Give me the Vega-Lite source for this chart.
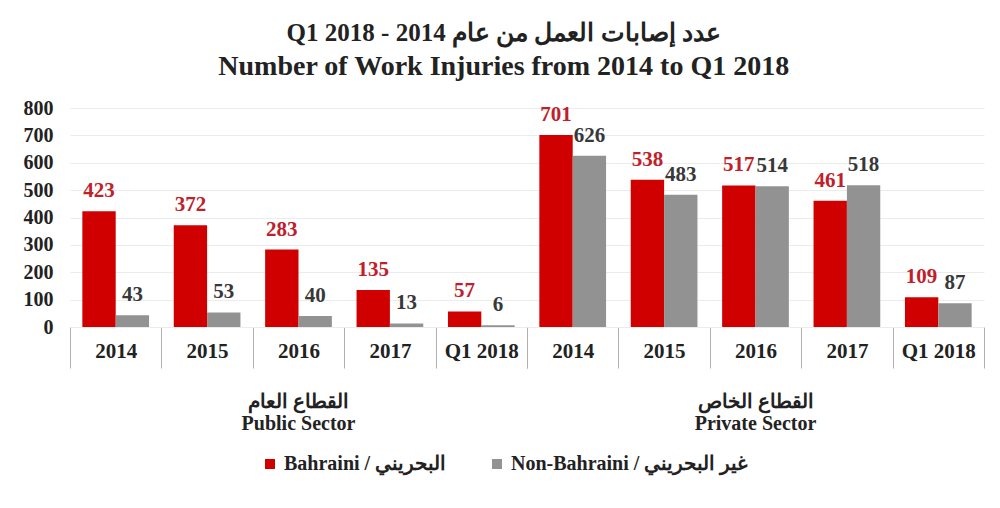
{
  "$schema": "https://vega.github.io/schema/vega-lite/v6.json",
  "background": "white",
  "padding": {"left": 23, "top": 21, "right": 10, "bottom": 10},
  "title": {
    "text": "Q1 2018 - 2014 عدد إصابات العمل من عام",
    "subtitle": "Number of Work Injuries from 2014 to Q1 2018",
    "font": "Liberation Serif",
    "fontSize": 25,
    "fontWeight": "bold",
    "color": "#222222",
    "subtitleFont": "Liberation Serif",
    "subtitleFontSize": 28,
    "subtitleFontWeight": "bold",
    "subtitleColor": "#222222",
    "subtitlePadding": 7,
    "anchor": "middle",
    "offset": 17
  },
  "data": {
    "values": [
      {"sector": "القطاع العام|Public Sector", "period": "2014", "series": "Bahraini / البحريني", "value": 423},
      {"sector": "القطاع العام|Public Sector", "period": "2014", "series": "Non-Bahraini / غير البحريني", "value": 43},
      {"sector": "القطاع العام|Public Sector", "period": "2015", "series": "Bahraini / البحريني", "value": 372},
      {"sector": "القطاع العام|Public Sector", "period": "2015", "series": "Non-Bahraini / غير البحريني", "value": 53},
      {"sector": "القطاع العام|Public Sector", "period": "2016", "series": "Bahraini / البحريني", "value": 283},
      {"sector": "القطاع العام|Public Sector", "period": "2016", "series": "Non-Bahraini / غير البحريني", "value": 40},
      {"sector": "القطاع العام|Public Sector", "period": "2017", "series": "Bahraini / البحريني", "value": 135},
      {"sector": "القطاع العام|Public Sector", "period": "2017", "series": "Non-Bahraini / غير البحريني", "value": 13},
      {"sector": "القطاع العام|Public Sector", "period": "Q1 2018", "series": "Bahraini / البحريني", "value": 57},
      {"sector": "القطاع العام|Public Sector", "period": "Q1 2018", "series": "Non-Bahraini / غير البحريني", "value": 6},
      {"sector": "القطاع الخاص|Private Sector", "period": "2014", "series": "Bahraini / البحريني", "value": 701},
      {"sector": "القطاع الخاص|Private Sector", "period": "2014", "series": "Non-Bahraini / غير البحريني", "value": 626},
      {"sector": "القطاع الخاص|Private Sector", "period": "2015", "series": "Bahraini / البحريني", "value": 538},
      {"sector": "القطاع الخاص|Private Sector", "period": "2015", "series": "Non-Bahraini / غير البحريني", "value": 483},
      {"sector": "القطاع الخاص|Private Sector", "period": "2016", "series": "Bahraini / البحريني", "value": 517},
      {"sector": "القطاع الخاص|Private Sector", "period": "2016", "series": "Non-Bahraini / غير البحريني", "value": 514},
      {"sector": "القطاع الخاص|Private Sector", "period": "2017", "series": "Bahraini / البحريني", "value": 461},
      {"sector": "القطاع الخاص|Private Sector", "period": "2017", "series": "Non-Bahraini / غير البحريني", "value": 518},
      {"sector": "القطاع الخاص|Private Sector", "period": "Q1 2018", "series": "Bahraini / البحريني", "value": 109},
      {"sector": "القطاع الخاص|Private Sector", "period": "Q1 2018", "series": "Non-Bahraini / غير البحريني", "value": 87}
    ]
  },
  "spacing": 0,
  "facet": {
    "column": {
      "field": "sector",
      "type": "nominal",
      "sort": ["القطاع العام|Public Sector", "القطاع الخاص|Private Sector"],
      "title": null,
      "header": {
        "labelOrient": "bottom",
        "labelExpr": "split(datum.value, '|')",
        "labelFont": "Liberation Serif",
        "labelFontSize": 20,
        "labelFontWeight": "bold",
        "labelColor": "#222222",
        "labelLineHeight": 22,
        "labelPadding": 23
      }
    }
  },
  "spec": {
    "width": 457,
    "height": 219,
    "encoding": {
      "x": {
        "field": "period",
        "type": "nominal",
        "sort": ["2014", "2015", "2016", "2017", "Q1 2018"],
        "scale": {"paddingInner": 0, "paddingOuter": 0},
        "axis": {
          "title": null,
          "labelAngle": 0,
          "labelFont": "Liberation Serif",
          "labelFontSize": 21,
          "labelFontWeight": "bold",
          "labelColor": "#222222",
          "labelPadding": -28,
          "tickBand": "extent",
          "tickSize": 41,
          "tickColor": "#b0b0b0",
          "domainColor": "#c0c0c0",
          "grid": false
        }
      },
      "xOffset": {
        "field": "series",
        "type": "nominal",
        "sort": ["Bahraini / البحريني", "Non-Bahraini / غير البحريني"],
        "scale": {"paddingInner": 0, "paddingOuter": 0.37}
      },
      "y": {
        "field": "value",
        "type": "quantitative",
        "scale": {"domain": [0, 800], "nice": false},
        "axis": {
          "title": null,
          "values": [0, 100, 200, 300, 400, 500, 600, 700, 800],
          "labelFont": "Liberation Serif",
          "labelFontSize": 20,
          "labelFontWeight": "bold",
          "labelColor": "#222222",
          "labelPadding": 17,
          "ticks": false,
          "domain": false,
          "gridColor": "#ececec"
        }
      }
    },
    "layer": [
      {
        "mark": {"type": "bar"},
        "encoding": {
          "color": {
            "field": "series",
            "type": "nominal",
            "sort": ["Bahraini / البحريني", "Non-Bahraini / غير البحريني"],
            "scale": {"range": ["#d00000", "#929292"]},
            "legend": {
              "title": null,
              "orient": "bottom",
              "direction": "horizontal",
              "symbolType": "square",
              "symbolSize": 100,
              "symbolStrokeWidth": 0,
              "labelFont": "Liberation Serif",
              "labelFontSize": 20,
              "labelFontWeight": "bold",
              "labelColor": "#222222",
              "labelLimit": 400,
              "columnPadding": 40,
              "offset": 20
            }
          }
        }
      },
      {
        "mark": {"type": "text", "baseline": "bottom", "dy": -10, "font": "Liberation Serif", "fontSize": 21, "fontWeight": "bold"},
        "encoding": {
          "text": {"field": "value", "type": "quantitative"},
          "color": {
            "condition": {"test": "datum.series == 'Bahraini / البحريني'", "value": "#c0202a"},
            "value": "#383838"
          }
        }
      }
    ]
  },
  "config": {
    "view": {"stroke": null},
    "legend": {"layout": {"bottom": {"anchor": "middle"}}}
  }
}
